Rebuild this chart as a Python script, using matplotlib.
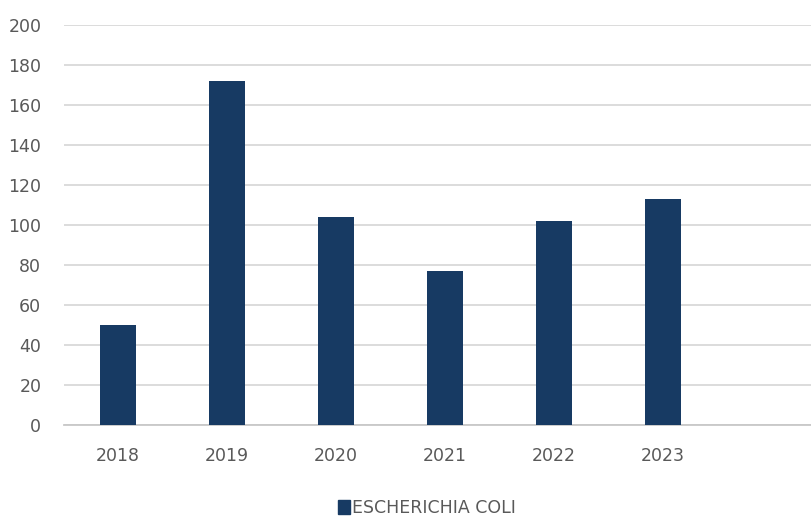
import matplotlib
matplotlib.use("Agg")
import matplotlib.pyplot as plt
from matplotlib.patches import Patch

years = ["2018", "2019", "2020", "2021", "2022", "2023"]
ecoli = [50, 172, 104, 77, 102, 113]
series_name = "ESCHERICHIA COLI"

BAR_COLOR = "#173a63"
TEXT_COLOR = "#595959"
GRID_COLOR = "#d9d9d9"

plt.rcParams["font.family"] = ["Liberation Sans Narrow", "DejaVu Sans"]

fig = plt.figure(figsize=(8.11, 5.18), dpi=100)
ax = fig.add_axes([63.5 / 811, 1 - 425 / 518, 1 - 63.5 / 811, 400 / 518])

x = list(range(len(years)))
ax.bar(x, ecoli, width=0.33, color=BAR_COLOR, zorder=3)

ax.set_ylim(0, 200)
ax.set_yticks(range(0, 201, 20))
ax.set_xlim(-0.5, 6.36)
ax.set_xticks(x)
ax.set_xticklabels(years)

ax.grid(axis="y", color=GRID_COLOR, lw=1.3, zorder=0)
for s in ["top", "right", "left"]:
    ax.spines[s].set_visible(False)
ax.spines["bottom"].set_color("#c8c8c8")
ax.spines["bottom"].set_linewidth(1.3)
ax.tick_params(axis="both", length=0, colors=TEXT_COLOR, labelsize=12.5)
ax.tick_params(axis="y", pad=16)
ax.tick_params(axis="x", pad=16)

fig.legend(handles=[Patch(color=BAR_COLOR, label=series_name)],
           loc="center", bbox_to_anchor=(427 / 811, 1 - 508 / 518),
           frameon=False, fontsize=12.5, labelcolor=TEXT_COLOR,
           handlelength=0.7, handleheight=0.9, handletextpad=0.15)

fig.savefig("out.png", dpi=100)
